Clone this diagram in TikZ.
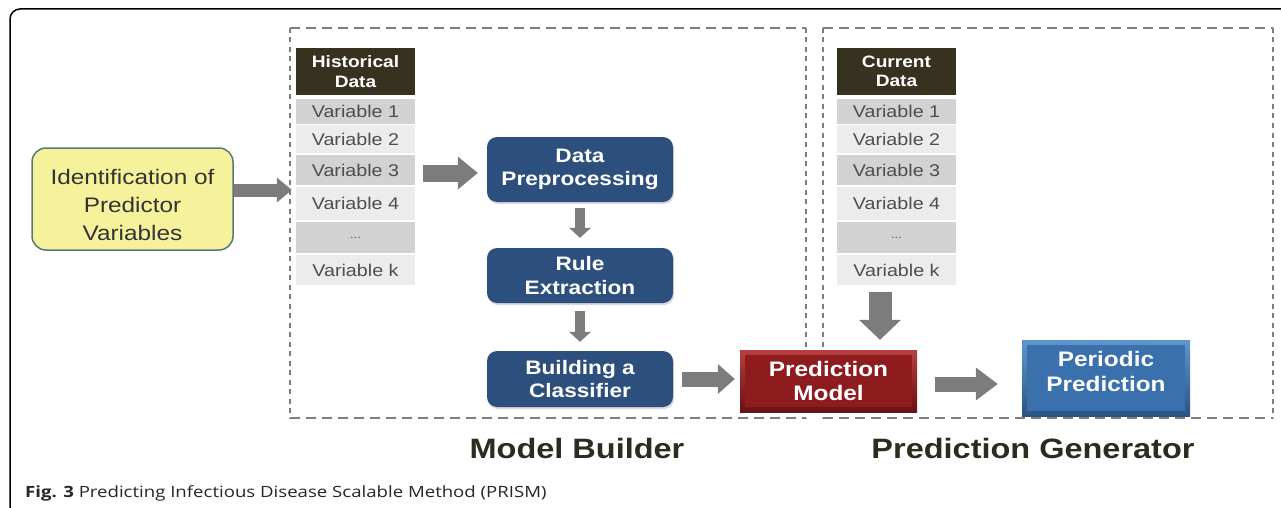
\documentclass[tikz,border=0pt]{standalone}
\usepackage{fontspec}
\setmainfont{Liberation Sans}[FakeStretch=1.16]
\newfontfamily\capfont{Open Sans}[FakeStretch=1.2]
\usetikzlibrary{arrows.meta,shadows}
\definecolor{hdr}{HTML}{36321F}
\definecolor{rowdark}{HTML}{D2D2D2}
\definecolor{rowlight}{HTML}{ECECEC}
\definecolor{rowtext}{HTML}{4E4E4E}
\definecolor{dblue}{HTML}{2C4F7D}
\definecolor{pmred}{HTML}{8E1B1D}
\definecolor{pmlight}{HTML}{B5403F}
\definecolor{pmdark}{HTML}{6A1012}
\definecolor{pblue}{HTML}{3A70AB}
\definecolor{pbluelight}{HTML}{6096CF}
\definecolor{pbluedark}{HTML}{2A5484}
\definecolor{yel}{HTML}{F6F29C}
\definecolor{yelborder}{HTML}{5A7878}
\definecolor{arrowgray}{HTML}{7C7C7C}
\definecolor{dashgray}{HTML}{7E7E7E}
\definecolor{labeltext}{HTML}{2B2B20}
\tikzset{
  cell/.style={rectangle, inner sep=0pt, minimum width=119pt, text=rowtext,
    font=\fontsize{17}{20}\selectfont},
  dcell/.style={cell, fill=rowdark},
  lcell/.style={cell, fill=rowlight},
  hcell/.style={rectangle, inner sep=0pt, minimum width=119pt, minimum height=47pt,
    fill=hdr, text=white, align=center, font=\fontsize{16.5}{19.5}\selectfont\bfseries},
  stepbox/.style={rectangle, rounded corners=10pt, fill=dblue, text=white, align=center,
    minimum width=186pt, inner sep=0pt,
    font=\fontsize{19.5}{23.5}\selectfont\bfseries,
    drop shadow={opacity=0.3, shadow xshift=1pt, shadow yshift=-2pt}},
  bevelbox/.style n args={3}{rectangle, inner sep=0pt, align=center, text=white,
    font=\fontsize{21}{24.5}\selectfont\bfseries,
    top color=#2, bottom color=#3,
    path picture={\fill[#1] ([xshift=5pt,yshift=-5pt]path picture bounding box.north west)
      rectangle ([xshift=-5pt,yshift=5pt]path picture bounding box.south east);}},
  blockarrow/.style n args={4}{draw=arrowgray, line width=#1,
    -{Triangle[width=#2,length=#3,line width=0pt,fill=arrowgray]}, #4},
  hdash/.style={draw=dashgray, line width=2.2pt, dash pattern=on 10pt off 6pt},
  vdash/.style={draw=dashgray, line width=2.2pt, dash pattern=on 5pt off 4.5pt},
  seclabel/.style={font=\fontsize{28}{32}\selectfont\bfseries, text=labeltext}
}
\begin{document}
\begin{tikzpicture}[x=1pt,y=-1pt]
\useasboundingbox (0,0) rectangle (1281,508);
% outer frame
\draw[line width=1.5pt, rounded corners=10pt] (10,512) -- (10,9) -- (1290,9);
% dashed section boxes
\draw[hdash] (290,28) -- (806,28);
\draw[hdash] (290,418) -- (806,418);
\draw[vdash] (290,28) -- (290,418);
\draw[vdash] (806,28) -- (806,418);
\draw[hdash] (823,28) -- (1273,28);
\draw[hdash] (823,418) -- (1273,418);
\draw[vdash] (823,28) -- (823,418);
\draw[vdash] (1273,28) -- (1273,418);
% identification
\node[rectangle, rounded corners=14pt, fill=yel, draw=yelborder, line width=1.5pt,
  minimum width=201pt, minimum height=102pt, text=black!80,
  font=\fontsize{21}{28}\selectfont] (ident) at (132.5,199)
  {\raisebox{-8pt}[\height][\depth]{\begin{tabular}{@{}c@{}}Identification of\\Predictor\\Variables\end{tabular}}};
% historical data table
\node[hcell] (histh) at (355.5,71.5) {Historical\\Data};
\node[dcell, minimum height=25pt] (hist1) at (355.5,111.5) {Variable 1};
\node[lcell, minimum height=28pt] (hist2) at (355.5,139) {Variable 2};
\node[dcell, minimum height=30pt] (hist3) at (355.5,170) {Variable 3};
\node[lcell, minimum height=33pt] (hist4) at (355.5,203.5) {Variable 4};
\node[dcell, minimum height=31pt] (hist5) at (355.5,237.5) {\fontsize{11}{12}\selectfont ...};
\node[lcell, minimum height=30pt] (histk) at (355.5,270) {Variable k};
% current data table
\node[hcell] (curh) at (896.5,71.5) {Current\\Data};
\node[dcell, minimum height=25pt] (cur1) at (896.5,111.5) {Variable 1};
\node[lcell, minimum height=28pt] (cur2) at (896.5,139) {Variable 2};
\node[dcell, minimum height=30pt] (cur3) at (896.5,170) {Variable 3};
\node[lcell, minimum height=33pt] (cur4) at (896.5,203.5) {Variable 4};
\node[dcell, minimum height=31pt] (cur5) at (896.5,237.5) {\fontsize{11}{12}\selectfont ...};
\node[lcell, minimum height=30pt] (curk) at (896.5,270) {Variable k};
% model builder steps
\node[stepbox, minimum height=65pt] (dp) at (580,169.5) {Data\\Preprocessing};
\node[stepbox, minimum height=55pt] (rule) at (580,275.5) {Rule\\Extraction};
\node[stepbox, minimum height=56pt] (build) at (580,379) {Building a\\Classifier};
% prediction model and periodic prediction
\node[bevelbox={pmred}{pmlight}{pmdark}, minimum width=177pt, minimum height=62pt]
  (pm) at (828.5,381) {Prediction\\Model};
\node[bevelbox={pblue}{pbluelight}{pbluedark}, minimum width=168pt, minimum height=76pt]
  (per) at (1106,378)
  {\raisebox{4pt}[\height][\depth]{\begin{tabular}{@{}c@{}}Periodic\\Prediction\end{tabular}}};
% arrows
\draw[blockarrow={13pt}{25pt}{15pt}{shorten >=4pt}]
  ([yshift=9pt]ident.east) -- ([yshift=9pt]ident.east -| hist3.west);
\draw[blockarrow={17pt}{33pt}{20pt}{shorten <=8pt, shorten >=9pt}]
  ([yshift=-3pt]hist3.east) -- ([yshift=-3pt]hist3.east -| dp.west);
\draw[blockarrow={10pt}{22pt}{10pt}{shorten <=6pt, shorten >=10pt}]
  (dp.south) -- (rule.north);
\draw[blockarrow={10pt}{22pt}{10pt}{shorten <=8pt, shorten >=9pt}]
  (rule.south) -- (build.north);
\draw[blockarrow={15pt}{30pt}{17pt}{shorten <=9pt, shorten >=5pt}]
  (build.east) -- (build.east -| pm.west);
\draw[blockarrow={23pt}{42pt}{20pt}{shorten <=7pt, shorten >=10pt}]
  ([xshift=-16.5pt]curk.south) -- ([xshift=-16.5pt]curk.south |- pm.north);
\draw[blockarrow={15pt}{33pt}{22pt}{shorten <=18pt, shorten >=24pt}]
  ([yshift=-3pt]pm.east) -- ([yshift=-3pt]pm.east -| per.west);
% section labels
\node[seclabel] (mblabel) at (577,448) {Model Builder};
\node[seclabel] (pglabel) at (1033,448) {Prediction Generator};
% caption
\node[anchor=base west, inner sep=0pt, text=black!85,
  font=\capfont\fontsize{15.5}{18}\selectfont] (caption) at (25,497)
  {\textbf{Fig. 3} Predicting Infectious Disease Scalable Method (PRISM)};
\end{tikzpicture}
\end{document}
